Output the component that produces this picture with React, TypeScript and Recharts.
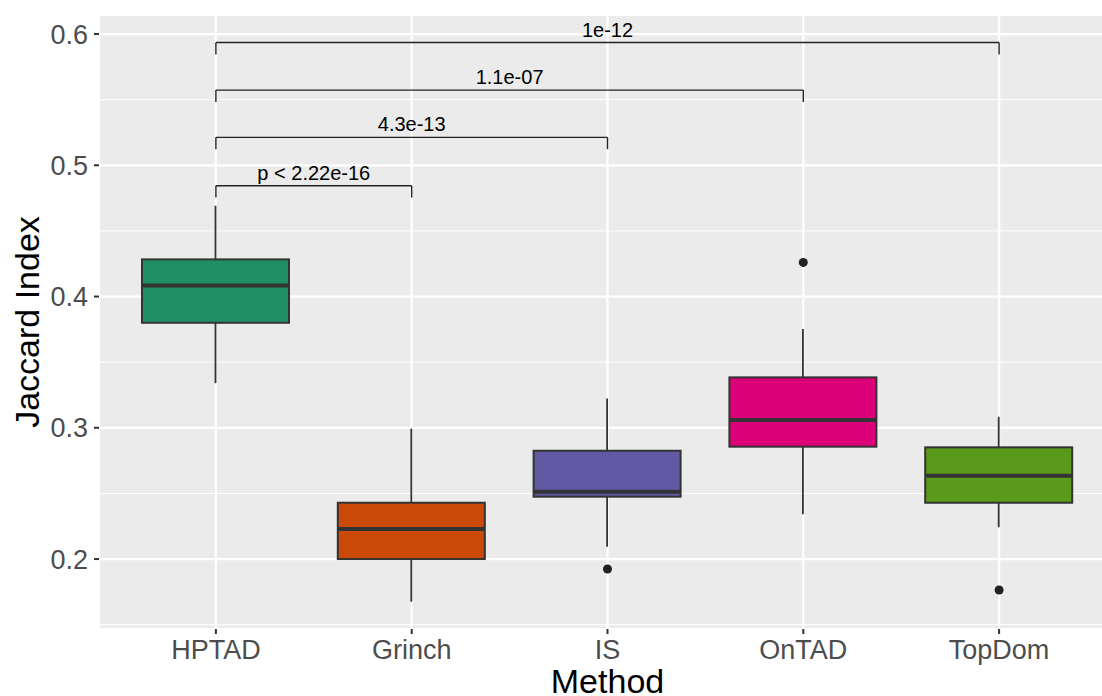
import React from 'react';
import { Bar, CartesianGrid, ComposedChart, Line, ReferenceLine, XAxis, YAxis } from 'recharts';

const methods = ['HPTAD', 'Grinch', 'IS', 'OnTAD', 'TopDom'];
const whiskerLow = [0.334, 0.1675, 0.2094, 0.2341, 0.2242];
const lowerQuartile = [0.38, 0.2, 0.2475, 0.2856, 0.2429];
const medians = [0.4085, 0.2229, 0.2513, 0.3059, 0.2635];
const upperQuartile = [0.4283, 0.2429, 0.2825, 0.3384, 0.2851];
const whiskerHigh = [0.4692, 0.2993, 0.3224, 0.3752, 0.3084];
const outliers: (number | null)[] = [null, null, 0.1924, 0.426, 0.1764];
const fills = ['#1F8F66', '#CC4A08', '#6159A4', '#DC0079', '#5A991A'];

const yTicks = [0.2, 0.3, 0.4, 0.5, 0.6];
const yMinor = [0.15, 0.25, 0.35, 0.45, 0.55];

// pairwise comparisons drawn as brackets above the boxes
const compFrom = ['HPTAD', 'HPTAD', 'HPTAD', 'HPTAD'];
const compTo = ['Grinch', 'IS', 'OnTAD', 'TopDom'];
const compY = [0.4844, 0.5213, 0.5573, 0.5935];
const compLabel = ['p < 2.22e-16', '4.3e-13', '1.1e-07', '1e-12'];
const tipLength = 0.009;

const data = methods.map((m, i) => ({
  method: m,
  lo: whiskerLow[i],
  q1: lowerQuartile[i],
  median: medians[i],
  q3: upperQuartile[i],
  hi: whiskerHigh[i],
  outlier: outliers[i],
  fill: fills[i],
}));

const FONT = '"Liberation Sans", Arial, Helvetica, sans-serif';

const BoxShape = (props: any) => {
  const { x, y, width, height, payload } = props;
  const top = Math.min(y, y + height);
  const h = Math.abs(height);
  const unit = h / (payload.hi - payload.lo);
  const py = (v: number) => top + (payload.hi - v) * unit;
  const cx = x + width / 2;
  return (
    <g>
      <line x1={cx} x2={cx} y1={py(payload.hi)} y2={py(payload.lo)} stroke="#333333" strokeWidth={1.8} />
      <rect
        x={x}
        y={py(payload.q3)}
        width={width}
        height={py(payload.q1) - py(payload.q3)}
        fill={payload.fill}
        stroke="#333333"
        strokeWidth={2}
      />
      <line x1={x} x2={x + width} y1={py(payload.median)} y2={py(payload.median)} stroke="#333333" strokeWidth={4} />
    </g>
  );
};

export default function App() {
  return (
    <div style={{ position: 'absolute', left: 0, top: 0, width: 1102, height: 696, overflow: 'hidden', background: '#fff', fontFamily: FONT }}>
      <ComposedChart width={1116} height={696} data={data} margin={{ top: 15, right: 0, bottom: 0, left: 0 }}>
        <CartesianGrid fill="#EBEBEB" horizontalValues={yMinor} vertical={false} stroke="#FFFFFF" strokeWidth={1} strokeDasharray="" />
        <CartesianGrid horizontal={true} vertical={true} stroke="#FFFFFF" strokeWidth={2.2} strokeDasharray="" />
        <XAxis
          dataKey="method"
          type="category"
          padding={{ left: 19, right: 19 }}
          height={67}
          axisLine={false}
          tickSize={5}
          tickMargin={6}
          tickLine={{ stroke: '#333333', strokeWidth: 2 }}
          tick={{ fill: '#4D4D4D', fontSize: 27, fontFamily: FONT }}
          interval={0}
          label={{ value: 'Method', position: 'insideBottom', offset: 3, fill: '#000', fontSize: 34, fontFamily: FONT }}
        />
        <YAxis
          type="number"
          domain={[0.1467, 0.6145]}
          allowDataOverflow
          ticks={yTicks}
          tickFormatter={(v: number) => v.toFixed(1)}
          width={99}
          axisLine={false}
          tickSize={5}
          tickMargin={6}
          tickLine={{ stroke: '#333333', strokeWidth: 2 }}
          tick={{ fill: '#4D4D4D', fontSize: 27, fontFamily: FONT }}
          label={{ value: 'Jaccard Index', angle: -90, position: 'center', dx: -23, fill: '#000', fontSize: 34, fontFamily: FONT }}
        />
        <Bar dataKey={(d: any) => [d.lo, d.hi]} barSize={147} shape={BoxShape} isAnimationActive={false} />
        <Line
          dataKey="outlier"
          stroke="none"
          dot={{ r: 4.5, fill: '#222222', stroke: 'none' }}
          activeDot={false}
          isAnimationActive={false}
        />
        {compFrom.map((from, i) => (
          <ReferenceLine
            key={`h${i}`}
            segment={[{ x: from, y: compY[i] }, { x: compTo[i], y: compY[i] }]}
            stroke="#222222"
            strokeWidth={1.4}
            ifOverflow="visible"
            label={{ value: compLabel[i], position: 'top', offset: 6, fill: '#000', fontSize: 20, fontFamily: FONT }}
          />
        ))}
        {compFrom.map((from, i) => (
          <ReferenceLine
            key={`l${i}`}
            segment={[{ x: from, y: compY[i] }, { x: from, y: compY[i] - tipLength }]}
            stroke="#222222"
            strokeWidth={1.4}
            ifOverflow="visible"
          />
        ))}
        {compTo.map((to, i) => (
          <ReferenceLine
            key={`r${i}`}
            segment={[{ x: to, y: compY[i] }, { x: to, y: compY[i] - tipLength }]}
            stroke="#222222"
            strokeWidth={1.4}
            ifOverflow="visible"
          />
        ))}
      </ComposedChart>
    </div>
  );
}
